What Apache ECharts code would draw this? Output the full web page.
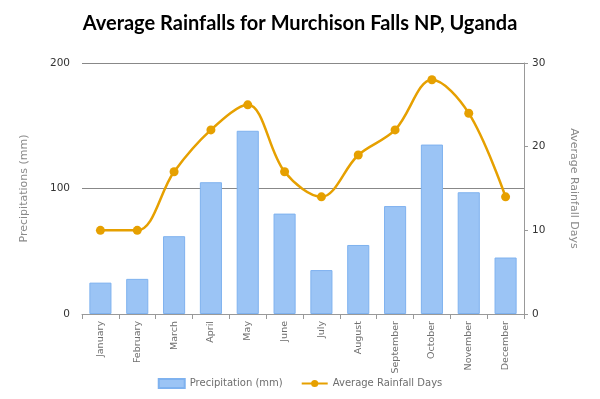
<!DOCTYPE html>
<html><head><meta charset="utf-8">
<script src="https://cdn.jsdelivr.net/npm/echarts@6/dist/echarts.min.js"></script>
<style>html,body{margin:0;padding:0;background:#fff}#c{width:600px;height:399px}</style>
</head><body><div id="c"></div>
<script>
var months = ['January','February','March','April','May','June','July','August','September','October','November','December'];
var precipitation = [25, 28, 62, 105, 146, 80, 35, 55, 86, 135, 97, 45];
var rainDays = [10, 10, 17, 22, 25, 17, 14, 19, 22, 28, 24, 14];
var leftTicks = [0, 100, 200];
var rightTicks = [0, 10, 20, 30];

var chart = echarts.init(document.getElementById('c'), null, {renderer:'canvas'});
var labelColor = '#6e6e6e';
var font = '"DejaVu Sans", sans-serif';
chart.setOption({
  animation: false,
  textStyle: {fontFamily: font},
  title: {
    text: 'Average Rainfalls for Murchison Falls NP, Uganda',
    left: 'center', top: 9,
    textStyle: {fontFamily: 'Lato', fontWeight: 'bold', fontSize: 20, color: '#000'}
  },
  grid: {left: 82, right: 76, top: 63, bottom: 85},
  legend: {
    bottom: 5, left: 'center', itemGap: 18, itemWidth: 26, itemHeight: 9,
    textStyle: {color: labelColor, fontSize: 10, fontFamily: font},
    data: [
      {name: 'Precipitation (mm)', icon: 'rect'},
      {name: 'Average Rainfall Days'}
    ]
  },
  xAxis: {
    type: 'category', data: months,
    axisLine: {lineStyle: {color: '#999'}},
    axisTick: {show: true, length: 5, lineStyle: {color: '#999'}},
    axisLabel: {rotate: 90, color: labelColor, fontSize: 9.5, margin: 7, fontFamily: font}
  },
  yAxis: [{
    type: 'value', min: leftTicks[0], max: leftTicks[leftTicks.length-1], interval: 100,
    name: 'Precipitations (mm)', nameLocation: 'middle', nameGap: 52, nameRotate: 90,
    nameTextStyle: {color: '#8a8a8a', fontSize: 11, fontFamily: font},
    axisLine: {show: false}, axisTick: {show: false},
    axisLabel: {color: '#333', fontSize: 10.5, margin: 12, fontFamily: font},
    splitLine: {show: true, lineStyle: {color: '#888', width: 1}}
  }, {
    type: 'value', min: rightTicks[0], max: rightTicks[rightTicks.length-1], interval: 10,
    name: 'Average Rainfall Days', nameLocation: 'middle', nameGap: 44, nameRotate: -90,
    nameTextStyle: {color: '#8a8a8a', fontSize: 11, fontFamily: font},
    axisLine: {show: true, lineStyle: {color: '#999'}},
    axisTick: {show: true, length: 4, lineStyle: {color: '#999'}},
    axisLabel: {color: '#333', fontSize: 10.5, margin: 8, fontFamily: font},
    splitLine: {show: false}
  }],
  series: [{
    name: 'Precipitation (mm)', type: 'bar', data: precipitation, yAxisIndex: 0,
    barWidth: '60%',
    itemStyle: {color: '#9bc4f5', borderColor: '#7fb2ef', borderWidth: 1}
  }, {
    name: 'Average Rainfall Days', type: 'line', data: rainDays, yAxisIndex: 1,
    smooth: 0.35, symbol: 'circle', symbolSize: 9,
    lineStyle: {color: '#e6a000', width: 2.5},
    itemStyle: {color: '#e6a000'}
  }]
});
</script>
</body></html>
